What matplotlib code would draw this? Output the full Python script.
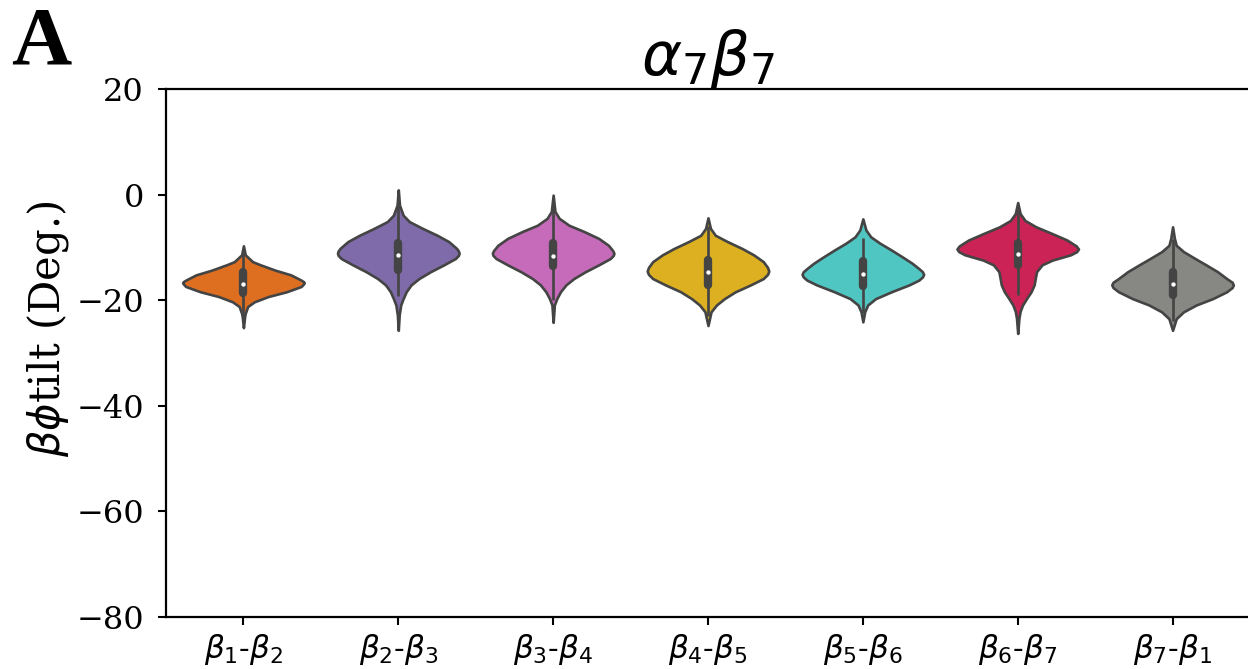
import numpy as np
import matplotlib
matplotlib.use('Agg')
import matplotlib.pyplot as plt

plt.rcParams['font.family'] = ['DejaVu Serif']
plt.rcParams['mathtext.fontset'] = 'dejavusans'

# Categories and colours
labels = [r'$\beta_1$-$\beta_2$', r'$\beta_2$-$\beta_3$', r'$\beta_3$-$\beta_4$',
          r'$\beta_4$-$\beta_5$', r'$\beta_5$-$\beta_6$', r'$\beta_6$-$\beta_7$',
          r'$\beta_7$-$\beta_1$']
colors = ['#DE6F20', '#7F6BA9', '#C56BBA', '#DCB020', '#50C6C3', '#CC2356', '#878883']

# Density outlines (angle, relative width)
b12_y = [-9.7, -11.4, -12.7, -13.3, -14.3, -15.2, -16.2, -16.5, -16.7, -16.9, -17.4, -18.4, -19.3, -20.3, -21.2, -22.5, -23.1, -25.2]
b12_w = [0, 0.03, 0.15, 0.28, 0.52, 0.78, 0.95, 0.99, 1.0, 0.99, 0.95, 0.71, 0.41, 0.18, 0.07, 0.03, 0.02, 0]
b23_y = [0.9, -2.0, -3.9, -5.1, -6.4, -7.7, -8.9, -10.2, -10.7, -11.1, -11.5, -12.1, -13.3, -14.6, -15.9, -17.1, -18.4, -19.7, -20.9, -22.8, -25.7]
b23_w = [0, 0.02, 0.08, 0.18, 0.40, 0.64, 0.83, 0.96, 0.99, 1.0, 0.99, 0.94, 0.75, 0.53, 0.34, 0.21, 0.13, 0.08, 0.04, 0.015, 0]
b34_y = [-0.1, -3.2, -4.5, -5.8, -7.0, -8.3, -9.6, -10.6, -11.1, -11.5, -12.1, -13.3, -14.6, -15.9, -17.1, -18.4, -19.7, -20.9, -24.2]
b34_w = [0, 0.03, 0.10, 0.26, 0.51, 0.75, 0.91, 0.98, 1.0, 0.99, 0.94, 0.75, 0.53, 0.34, 0.21, 0.12, 0.06, 0.02, 0]
b45_y = [-4.4, -6.4, -7.7, -8.9, -10.2, -11.4, -12.7, -13.8, -14.5, -15.1, -15.9, -17.1, -18.4, -19.7, -20.9, -22.2, -24.8]
b45_w = [0, 0.04, 0.12, 0.32, 0.56, 0.75, 0.91, 0.98, 1.0, 0.98, 0.91, 0.70, 0.45, 0.27, 0.14, 0.05, 0]
b56_y = [-4.6, -6.7, -8.0, -9.2, -10.5, -11.8, -13.0, -14.0, -14.6, -15.1, -15.6, -16.2, -17.1, -18.4, -19.7, -20.9, -22.2, -24.1]
b56_w = [0, 0.05, 0.13, 0.28, 0.47, 0.65, 0.81, 0.92, 0.98, 1.0, 0.98, 0.92, 0.76, 0.47, 0.21, 0.08, 0.03, 0]
b67_y = [-1.5, -3.6, -4.9, -6.1, -7.4, -8.6, -9.7, -10.3, -10.8, -11.4, -12.4, -13.3, -14.6, -15.8, -17.1, -18.4, -19.6, -20.9, -22.1, -23.4, -26.3]
b67_w = [0, 0.04, 0.12, 0.30, 0.57, 0.81, 0.96, 1.0, 0.97, 0.87, 0.57, 0.40, 0.31, 0.29, 0.27, 0.22, 0.15, 0.08, 0.04, 0.02, 0]
b71_y = [-6.1, -8.3, -9.6, -10.8, -12.1, -13.3, -14.6, -15.9, -16.6, -17.1, -17.6, -18.4, -19.7, -20.9, -22.2, -23.5, -25.7]
b71_w = [0, 0.03, 0.06, 0.18, 0.37, 0.55, 0.74, 0.89, 0.98, 1.0, 0.98, 0.89, 0.66, 0.39, 0.18, 0.06, 0]

profiles_y = [b12_y, b23_y, b34_y, b45_y, b56_y, b67_y, b71_y]
profiles_w = [b12_w, b23_w, b34_w, b45_w, b56_w, b67_w, b71_w]

# Inner box statistics
medians = [-16.9, -11.5, -11.6, -14.7, -15.1, -11.25, -17.0]
q1 = [-18.7, -14.3, -13.5, -17.1, -17.25, -13.3, -19.1]
q3 = [-14.6, -9.1, -9.2, -12.4, -12.6, -9.2, -14.7]
whisk_lo = [-24.0, -19.2, -20.0, -23.0, -22.5, -19.1, -24.0]
whisk_hi = [-10.3, -2.0, -2.5, -6.0, -8.3, -3.0, -8.5]

fig = plt.figure(figsize=(12.48, 6.69), dpi=100)
ax = fig.add_axes([166 / 1248, 1 - 617 / 669, 1084 / 1248, 528 / 669])

pos = np.arange(len(labels))
vpstats = []
for i in range(len(labels)):
    vpstats.append({'coords': np.array(profiles_y[i]), 'vals': np.array(profiles_w[i]),
                    'mean': medians[i], 'median': medians[i],
                    'min': min(profiles_y[i]), 'max': max(profiles_y[i])})
parts = ax.violin(vpstats, positions=pos, widths=0.785,
                  showmeans=False, showextrema=False, showmedians=False)
for body, c in zip(parts['bodies'], colors):
    body.set_facecolor(c)
    body.set_edgecolor('#444444')
    body.set_linewidth(1.9)
    body.set_alpha(1)
    body.set_zorder(2)
    body.set_joinstyle('round')

ax.vlines(pos, whisk_lo, whisk_hi, color='#444444', lw=1.9, zorder=3)
ax.vlines(pos, q1, q3, color='#444444', lw=6, zorder=3, capstyle='round')
ax.scatter(pos, medians, s=10, color='white', zorder=4, linewidths=0)

ax.set_xlim(-0.5, 6.5)
ax.set_ylim(-80, 20)
ax.set_yticks(np.arange(-80, 21, 20))
ax.set_xticks(pos)
ax.set_xticklabels(labels)
ax.tick_params(labelsize=23, length=6, width=1.5)
ax.tick_params(axis='y', pad=10)
ax.tick_params(axis='x', pad=5, labelsize=22.5)
for s in ax.spines.values():
    s.set_linewidth(1.6)

ax.set_ylabel(r'$\beta\phi$tilt (Deg.)', fontsize=30)
ax.yaxis.set_label_coords(-0.088, 0.545)
ax.text(0.5, 1.026, r'$\alpha_7\beta_7$', transform=ax.transAxes,
        ha='center', va='baseline', fontsize=44)
fig.text(0.009, 1 - 64 / 669, 'A', fontsize=60, fontweight='bold',
         family='Liberation Serif', va='baseline', ha='left')

fig.savefig('out.png', dpi=100)
